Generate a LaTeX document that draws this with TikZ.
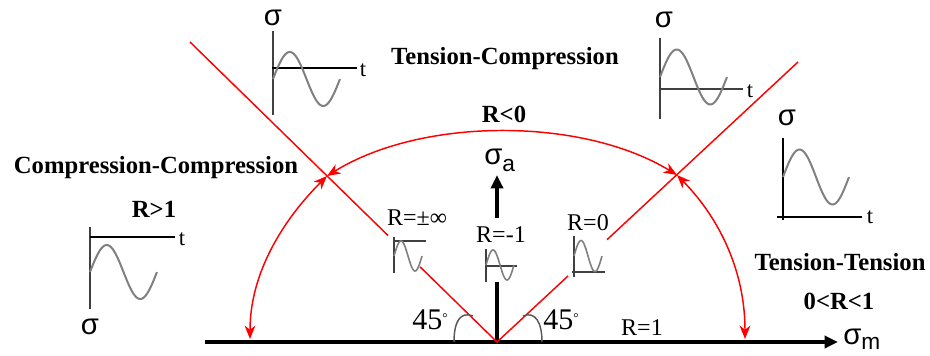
\documentclass[tikz,border=0pt]{standalone}
\usepackage{fontspec}
\setmainfont{Liberation Serif}
\newfontfamily\sigmafont{Liberation Sans}
\usetikzlibrary{arrows.meta}
\newcommand\sigwave[5][wavestyle]{%
  \draw[#1] plot[domain=0:1,samples=60,smooth,variable=\u]
    ({#2+#5*\u},{#3-#4*sin(360*\u)});}
\begin{document}
\begin{tikzpicture}[x=0.75pt,y=-0.75pt,
  redline/.style={red,line width=1.1pt},
  redarc/.style={red,line width=1.1pt,
    {Stealth[length=10pt,width=8pt,inset=3pt]}-{Stealth[length=10pt,width=8pt,inset=3pt]}},
  mainaxis/.style={line width=3pt,-{Triangle[length=10pt,width=9pt]}},
  plotaxis/.style={black!75,line width=1.1pt},
  wavestyle/.style={black!50,line width=1.5pt},
  smallwave/.style={black!50,line width=1.2pt},
  anglearc/.style={black!65,line width=1.1pt},
  boldtxt/.style={font=\fontsize{18.5}{20}\selectfont\bfseries,inner sep=0pt},
  lbl/.style={font=\fontsize{18}{20}\selectfont,inner sep=0pt},
  anglbl/.style={font=\fontsize{22.5}{24}\selectfont,inner sep=0pt,anchor=west},
  sig/.style={font=\sigmafont\fontsize{22}{24}\selectfont,inner sep=0pt},
  tlbl/.style={font=\fontsize{17}{18}\selectfont,inner sep=0pt}]
\useasboundingbox (0,0) rectangle (930,356);

% key points
\coordinate (O) at (497,342);
\coordinate (axL) at (205,342);
\coordinate (axR) at (838,342);
\coordinate (vgapB) at (497,282);
\coordinate (vgapT) at (497,218);
\coordinate (vtip) at (497,175);
\coordinate (Ltop) at (190,42);
\coordinate (Lg1) at (388,235.5);
\coordinate (Lg2) at (420,266.8);
\coordinate (Rtop) at (798,62);
\coordinate (Rg1) at (607,239.7);
\coordinate (Rg2) at (568,276);
\coordinate (XL) at (327,176);
\coordinate (XR) at (677,175);
\coordinate (BL) at (250,339);
\coordinate (BR) at (745,339);

% main axes
\draw[mainaxis] (axL) -- (axR);
\draw[line width=3pt] (O) -- (vgapB);
\draw[mainaxis] (vgapT) -- (vtip);
\node[sig,anchor=west] (sa) at (484,160) {σ\raisebox{-0.45ex}{\fontsize{17}{18}\selectfont a}};
\node[sig,anchor=west] (sm) at (843,339) {σ\raisebox{-0.35ex}{\fontsize{17}{18}\selectfont m}};

% red diagonal lines
\draw[redline] (Ltop) -- (Lg1);
\draw[redline] (Lg2) -- (O) -- (Rg2);
\draw[redline] (Rg1) -- (Rtop);

% red arcs
\draw[redarc] (XL) .. controls (422,117) and (582,117) .. (XR);
\draw[redarc] (XL) .. controls (283,220) and (250,273) .. (BL);
\draw[redarc] (XR) .. controls (721,220) and (745,273) .. (BR);

% 45 degree arcs
\draw[anglearc] (454,342) .. controls (454,322) and (460,311) .. (473,316);
\draw[anglearc] (523,316) .. controls (535,311) and (542,322) .. (542,342);
\node[anglbl] (a45l) at (412,320) {45\raisebox{0.55ex}{\fontsize{10}{10}\selectfont °}};
\node[anglbl] (a45r) at (543,320) {45\raisebox{0.55ex}{\fontsize{10}{10}\selectfont °}};

% labels
\node[boldtxt] (tc) at (505,59) {Tension-Compression};
\node[boldtxt] (cc) at (156,168) {Compression-Compression};
\node[boldtxt] (rlt0) at (504,114) {R<0};
\node[boldtxt] (rgt1) at (154,209) {R>1};
\node[boldtxt] (tt) at (840,262) {Tension-Tension};
\node[boldtxt] (r01) at (839,301) {0<R<1};
\node[lbl] (rinf) at (417,218) {R=±∞};
\node[lbl] (rm1) at (501,235) {R=-1};
\node[lbl] (r0) at (588,223) {R=0};
\node[lbl] (r1) at (642,328) {R=1};

% big plot top-left (tension-compression)
\draw[plotaxis] (273,31) -- (273,115);
\draw[plotaxis,black] (272,68) -- (357,68);
\sigwave{273}{79}{27}{67}
\node[sig] (s1) at (273,18) {σ};
\node[tlbl] (t1) at (363,70) {t};

% big plot top-right
\draw[plotaxis] (660,38) -- (660,119);
\draw[plotaxis] (660,89) -- (743,89);
\sigwave{660}{77}{27.5}{67}
\node[sig] (s2) at (664,20) {σ};
\node[tlbl] (t2) at (750,91) {t};

% big plot right (tension-tension)
\draw[plotaxis,black] (783,138) -- (783,220);
\draw[plotaxis,black] (777,217) -- (862,217);
\sigwave{783}{177}{27.5}{66}
\node[sig] (s3) at (787,118) {σ};
\node[tlbl] (t3) at (870,217) {t};

% big plot left (compression-compression)
\draw[plotaxis] (90,227) -- (90,309);
\draw[plotaxis,black] (90,237) -- (175,237);
\sigwave{90}{272}{27}{67}
\node[sig] (s4) at (90,327) {σ};
\node[tlbl] (t4) at (182,239) {t};

% small plots
\draw[plotaxis] (394,237) -- (394,273);
\draw[plotaxis] (394,241) -- (426,241);
\sigwave[smallwave]{394}{256}{15}{28}

\draw[plotaxis] (486,249) -- (486,282);
\draw[plotaxis] (486,266) -- (517,266);
\sigwave[smallwave]{486}{265}{15}{28}

\draw[plotaxis] (574,236) -- (574,277);
\draw[plotaxis] (572,272) -- (605,272);
\sigwave[smallwave]{574}{256}{15.5}{28}
\end{tikzpicture}
\end{document}
